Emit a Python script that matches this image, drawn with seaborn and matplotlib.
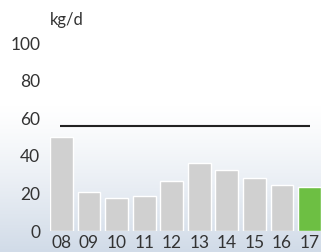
import numpy as np
import pandas as pd
import matplotlib
matplotlib.use("Agg")
import matplotlib.pyplot as plt
import seaborn as sns

# data
years = ["08", "09", "10", "11", "12", "13", "14", "15", "16", "17"]
values = [50, 20.5, 17.5, 18.5, 26.5, 36, 32.5, 28, 24.5, 23.5]
target = 56
unit = "kg/d"
y_ticks = [0, 20, 40, 60, 80, 100]

gray = "#d0d0d0"
green = "#6dbf43"
colors = [gray] * (len(years) - 1) + [green]

sns.set_style("white")
plt.rcParams["font.family"] = ["Lato", "DejaVu Sans"]

fig = plt.figure(figsize=(3.21, 2.52), dpi=100)

# soft background: white fading into pale blue-grey at the bottom
bg = fig.add_axes([0, 0, 1, 1])
t = np.linspace(0, 1, 252)
fade = np.clip((t - 0.42) / 0.58, 0, 1) ** 1.2
top = np.array([1.0, 1.0, 1.0])
bottom = np.array([0.82, 0.86, 0.91])
grad = top[None, :] * (1 - fade[:, None]) + bottom[None, :] * fade[:, None]
bg.imshow(np.repeat(grad[:, None, :], 2, axis=1), aspect="auto", extent=[0, 1, 0, 1])
bg.axis("off")

ax = fig.add_axes([50 / 321, 21 / 252, 271 / 321, 188 / 252])
ax.patch.set_alpha(0)
df = pd.DataFrame({"year": years, "value": values})
sns.barplot(data=df, x="year", y="value", hue="year", palette=colors,
            legend=False, width=0.83, saturation=1, ax=ax)
ax.hlines(target, -0.05, 9.0, color="#222222", linewidth=1.5)

ax.set_xlim(-0.415, 9.415)
ax.set_ylim(0, 100)
ax.set_yticks(y_ticks)
ax.set_xlabel("")
ax.set_ylabel("")
ax.tick_params(axis="y", length=0, pad=7, labelsize=12.5, labelcolor="#333333")
ax.tick_params(axis="x", length=0, pad=3, labelsize=12.5, labelcolor="#333333")
sns.despine(ax=ax, left=True, bottom=True)
ax.grid(False)

fig.text(50 / 321, 1 - 20 / 252, unit, fontsize=12, color="#333333",
         ha="left", va="center")

fig.savefig("out.png", dpi=100)
